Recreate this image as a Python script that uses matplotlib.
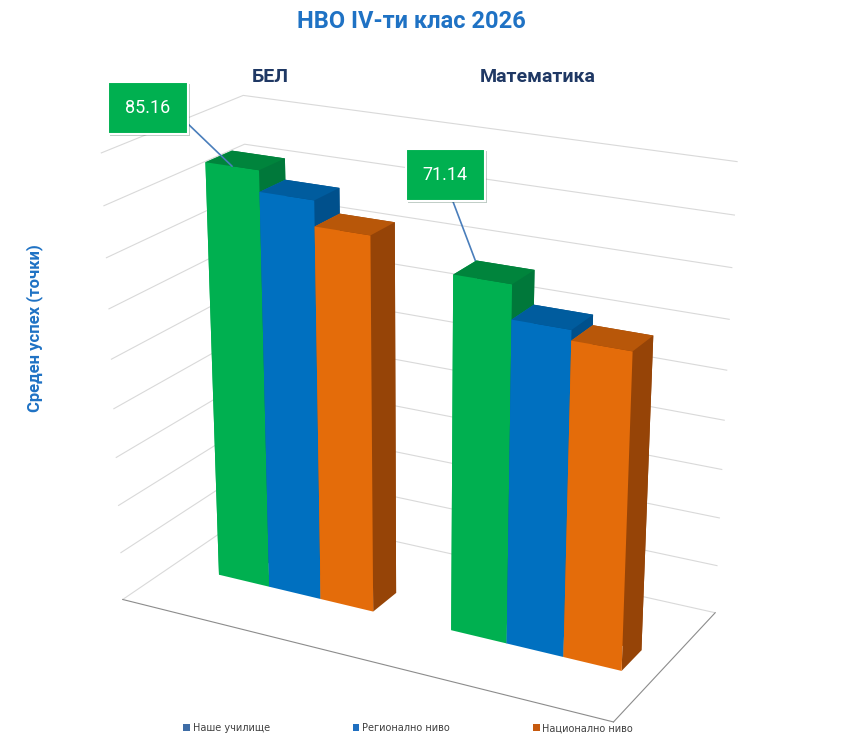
import numpy as np
import matplotlib.pyplot as plt
from matplotlib.patches import Patch
from matplotlib import patheffects
from mpl_toolkits.mplot3d import proj3d

# ---------------------------------------------------------
# Data
# ---------------------------------------------------------
subjects = ['БЕЛ', 'Математика']
series_names = ['Наше училище', 'Регионално ниво', 'Национално ниво']
school = [85.16, 71.14]
regional = [81.0, 64.5]
national = [76.0, 62.5]
value_ticks = list(range(0, 100, 10))

front_colors = ['#00B050', '#0070C0', '#E46C0A']
top_colors = ['#00843C', '#005C9E', '#B85709']
side_colors = ['#00783A', '#00508C', '#964407']
legend_colors = ['#3E6DA6', '#1F6FC0', '#C65A0F']

font = ['Roboto', 'DejaVu Sans']
plt.rcParams['grid.color'] = '#d9d9d9'
plt.rcParams['grid.linewidth'] = 0.8

# ---------------------------------------------------------
# 3D column chart
# ---------------------------------------------------------
fig = plt.figure(figsize=(8.45, 7.5), dpi=100)
ax = fig.add_axes([-0.078, -0.023, 1.12, 0.98], projection='3d')
ax.set_proj_type('persp', focal_length=0.6)
ax.view_init(elev=21, azim=-62)
ax.set_box_aspect((1.6, 0.75, 1.38), zoom=1.03)

bar_w = 0.225
bar_d = 0.19
group_mid = 0.54
y0 = 0.375
values = [school, regional, national]
for s, vals in enumerate(values):
    for c, v in enumerate(vals):
        x0 = c + group_mid - 1.5 * bar_w + s * bar_w
        faces = ['white', top_colors[s], front_colors[s], side_colors[s],
                 front_colors[s], side_colors[s]]
        ax.bar3d(x0, y0, 0, bar_w, bar_d, v, color=faces, shade=False)

ax.set_xlim(0, 2)
ax.set_ylim(0, 1)
ax.set_zlim(0, 90)
ax.set_xticks([])
ax.set_yticks([])
ax.set_zticks(value_ticks)
ax.set_zticklabels([])
ax.zaxis._axinfo['tick']['inward_factor'] = 0
ax.zaxis._axinfo['tick']['outward_factor'] = 0
for axis in (ax.xaxis, ax.yaxis, ax.zaxis):
    axis.set_pane_color((1, 1, 1, 0))
    axis.pane.set_edgecolor((1, 1, 1, 0))
ax.xaxis.line.set_color('#8c8c8c')
ax.yaxis.line.set_color('#8c8c8c')
ax.zaxis.line.set_color((1, 1, 1, 0))

# ---------------------------------------------------------
# Texts
# ---------------------------------------------------------
fig.text(0.487, 0.971, 'НВО IV-ти клас 2026', ha='center', va='center',
         fontsize=17, fontweight='bold', color='#1F72C4', family=font)
cat_x = [0.320, 0.636]
for cx, name in zip(cat_x, subjects):
    fig.text(cx, 0.897, name, ha='center', va='center', fontsize=14,
             fontweight='bold', color='#1F3864', family=font)
fig.text(0.041, 0.563, 'Среден успех (точки)', rotation=90, ha='center',
         va='center', fontsize=12, fontweight='bold', color='#1F72C4',
         family=font)

# data labels for "Наше училище"
fig.canvas.draw()
label_pos = [(0.175, 0.856), (0.527, 0.767)]
label_rel = [(1.0, 0.55), (0.52, 0.0)]
for c, v in enumerate(school):
    xc = c + group_mid - 1.5 * bar_w + bar_w / 2
    px, py, _ = proj3d.proj_transform(xc, y0, v, ax.M)
    ann = ax.annotate(f'{v:.2f}', xy=(px, py), xycoords='data',
                      xytext=label_pos[c], textcoords='figure fraction',
                      ha='center', va='center', fontsize=13, color='white',
                      family=font,
                      bbox=dict(boxstyle='square,pad=0.95', fc='#00B050',
                                ec='white', lw=1.5),
                      arrowprops=dict(arrowstyle='-', color='#4A7EBB', lw=1.2,
                                      shrinkA=0, shrinkB=0,
                                      relpos=label_rel[c]))
    ann.get_bbox_patch().set_path_effects(
        [patheffects.SimplePatchShadow(offset=(1.5, -1.5), alpha=0.25),
         patheffects.Normal()])

handles = [Patch(facecolor=col, edgecolor='none') for col in legend_colors]
fig.legend(handles, series_names, loc='center', bbox_to_anchor=(0.483, 0.029),
           ncol=3, frameon=False, fontsize=7, handlelength=0.7,
           handleheight=0.7, handletextpad=0.3, columnspacing=8.5,
           labelcolor='#404040')

fig.savefig('out.png', dpi=100)
